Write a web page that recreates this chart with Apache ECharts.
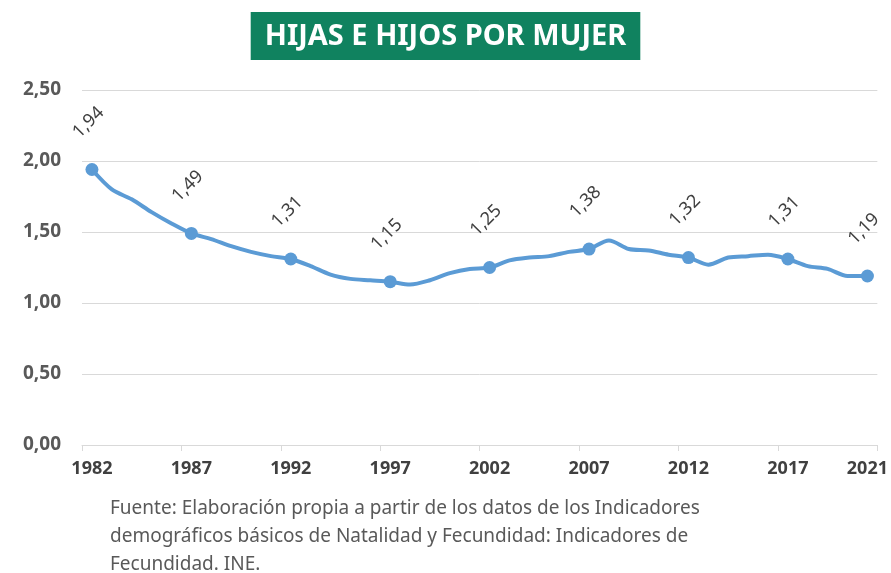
<!DOCTYPE html>
<html>
<head>
<meta charset="utf-8">
<script src="https://cdn.jsdelivr.net/npm/echarts@6/dist/echarts.min.js"></script>
<style>
  html, body { margin: 0; padding: 0; background: #fff; }
  #chart { width: 891px; height: 573px; }
</style>
</head>
<body>
<div id="chart"></div>
<script>
// Hijas e hijos por mujer (INE)
var years = [];
for (var y = 1982; y <= 2021; y++) years.push(String(y));

var values = [1.94, 1.80, 1.73, 1.64, 1.56, 1.49, 1.45, 1.40, 1.36, 1.33,
              1.31, 1.26, 1.20, 1.17, 1.16, 1.15, 1.13, 1.16, 1.21, 1.24,
              1.25, 1.30, 1.32, 1.33, 1.36, 1.38, 1.44, 1.38, 1.37, 1.34,
              1.32, 1.27, 1.32, 1.33, 1.34, 1.31, 1.26, 1.24, 1.19, 1.19];

var labeledYears = ['1982', '1987', '1992', '1997', '2002', '2007', '2012', '2017', '2021'];

var sourceLines = [
    'Fuente: Elaboración propia a partir de los datos de los Indicadores',
    'demográficos básicos de Natalidad y Fecundidad: Indicadores de',
    'Fecundidad. INE.'
];

var font = '"Noto Sans", "Open Sans", sans-serif';

var chart = echarts.init(document.getElementById('chart'));

// solo los años marcados llevan punto y etiqueta
var seriesData = values.map(function(v, i) {
    var on = labeledYears.indexOf(years[i]) >= 0;
    return {
        value: v,
        symbol: on ? 'circle' : 'none',
        label: { show: on }
    };
});

var option = {
    backgroundColor: '#fff',
    animation: false,
    title: {
        text: 'HIJAS E HIJOS POR MUJER',
        left: 'center',
        top: 12,
        backgroundColor: '#10825f',
        padding: [10, 14, 9, 14],
        textStyle: {
            color: '#fff',
            fontFamily: font,
            fontWeight: 'bold',
            fontSize: 29
        }
    },
    grid: {
        left: 82,
        right: 13,
        top: 90,
        bottom: 128
    },
    xAxis: {
        type: 'category',
        data: years,
        boundaryGap: true,
        axisLine: { lineStyle: { color: '#d9d9d9', width: 1 } },
        axisTick: {
            show: true,
            length: 6,
            lineStyle: { color: '#d9d9d9' },
            interval: function(i) { return i % 5 === 0; }
        },
        axisLabel: {
            interval: function(i) { return i % 5 === 0 || i === years.length - 1; },
            color: '#404040',
            fontFamily: font,
            fontWeight: 'bold',
            fontSize: 18,
            margin: 15
        }
    },
    yAxis: {
        type: 'value',
        min: 0,
        max: 2.5,
        interval: 0.5,
        axisLine: { show: false },
        axisTick: { show: false },
        splitLine: { lineStyle: { color: '#d9d9d9', width: 1 } },
        axisLabel: {
            color: '#595959',
            fontFamily: font,
            fontWeight: 'bold',
            fontSize: 19,
            margin: 21,
            formatter: function(v) { return v.toFixed(2).replace('.', ','); }
        }
    },
    series: [{
        type: 'line',
        data: seriesData,
        smooth: 0.3,
        symbolSize: 13,
        showAllSymbol: true,
        lineStyle: { color: '#5b9bd5', width: 4 },
        itemStyle: { color: '#5b9bd5' },
        label: {
            position: 'top',
            distance: 30,
            offset: [5, -1],
            rotate: 45,
            color: '#404040',
            fontFamily: font,
            fontSize: 18,
            formatter: function(p) { return p.value.toFixed(2).replace('.', ','); }
        }
    }],
    graphic: sourceLines.map(function(t, i) {
        return {
            type: 'text',
            left: 110,
            top: 499 + i * 28,
            style: {
                text: t,
                fill: '#595959',
                font: '19px ' + font
            }
        };
    })
};

chart.setOption(option);
</script>
</body>
</html>
